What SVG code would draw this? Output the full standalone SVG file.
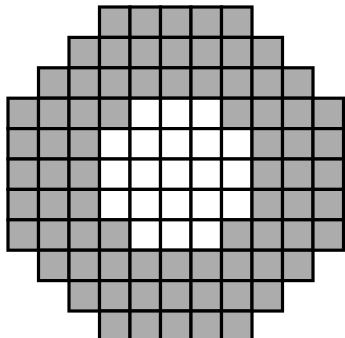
<svg xmlns="http://www.w3.org/2000/svg" width="345" height="338" viewBox="0 0 345 338">
<style>
rect{stroke:#000;stroke-width:3.2;width:30.5px;height:30.4px}
.g{fill:#acacac}
.w{fill:#fff}
</style>
<rect x="0" y="0" width="345" height="338" fill="#fff" style="stroke:none;width:345px;height:338px"/>
<g id="row0">
<rect class="g" x="99.5" y="7"/><rect class="g" x="130" y="7"/><rect class="g" x="160.5" y="7"/><rect class="g" x="191" y="7"/><rect class="g" x="221.5" y="7"/>
</g>
<g id="row1">
<rect class="g" x="69" y="37.4"/><rect class="g" x="99.5" y="37.4"/><rect class="g" x="130" y="37.4"/><rect class="g" x="160.5" y="37.4"/><rect class="g" x="191" y="37.4"/><rect class="g" x="221.5" y="37.4"/><rect class="g" x="252" y="37.4"/>
</g>
<g id="row2">
<rect class="g" x="38.5" y="67.8"/><rect class="g" x="69" y="67.8"/><rect class="g" x="99.5" y="67.8"/><rect class="g" x="130" y="67.8"/><rect class="g" x="160.5" y="67.8"/><rect class="g" x="191" y="67.8"/><rect class="g" x="221.5" y="67.8"/><rect class="g" x="252" y="67.8"/><rect class="g" x="282.5" y="67.8"/>
</g>
<g id="row3">
<rect class="g" x="8" y="98.2"/><rect class="g" x="38.5" y="98.2"/><rect class="g" x="69" y="98.2"/><rect class="g" x="99.5" y="98.2"/><rect class="w" x="130" y="98.2"/><rect class="w" x="160.5" y="98.2"/><rect class="w" x="191" y="98.2"/><rect class="g" x="221.5" y="98.2"/><rect class="g" x="252" y="98.2"/><rect class="g" x="282.5" y="98.2"/><rect class="g" x="313" y="98.2"/>
</g>
<g id="row4">
<rect class="g" x="8" y="128.6"/><rect class="g" x="38.5" y="128.6"/><rect class="g" x="69" y="128.6"/><rect class="w" x="99.5" y="128.6"/><rect class="w" x="130" y="128.6"/><rect class="w" x="160.5" y="128.6"/><rect class="w" x="191" y="128.6"/><rect class="w" x="221.5" y="128.6"/><rect class="g" x="252" y="128.6"/><rect class="g" x="282.5" y="128.6"/><rect class="g" x="313" y="128.6"/>
</g>
<g id="row5">
<rect class="g" x="8" y="159"/><rect class="g" x="38.5" y="159"/><rect class="g" x="69" y="159"/><rect class="w" x="99.5" y="159"/><rect class="w" x="130" y="159"/><rect class="w" x="160.5" y="159"/><rect class="w" x="191" y="159"/><rect class="w" x="221.5" y="159"/><rect class="g" x="252" y="159"/><rect class="g" x="282.5" y="159"/><rect class="g" x="313" y="159"/>
</g>
<g id="row6">
<rect class="g" x="8" y="189.4"/><rect class="g" x="38.5" y="189.4"/><rect class="g" x="69" y="189.4"/><rect class="w" x="99.5" y="189.4"/><rect class="w" x="130" y="189.4"/><rect class="w" x="160.5" y="189.4"/><rect class="w" x="191" y="189.4"/><rect class="w" x="221.5" y="189.4"/><rect class="g" x="252" y="189.4"/><rect class="g" x="282.5" y="189.4"/><rect class="g" x="313" y="189.4"/>
</g>
<g id="row7">
<rect class="g" x="8" y="219.8"/><rect class="g" x="38.5" y="219.8"/><rect class="g" x="69" y="219.8"/><rect class="g" x="99.5" y="219.8"/><rect class="w" x="130" y="219.8"/><rect class="w" x="160.5" y="219.8"/><rect class="w" x="191" y="219.8"/><rect class="g" x="221.5" y="219.8"/><rect class="g" x="252" y="219.8"/><rect class="g" x="282.5" y="219.8"/><rect class="g" x="313" y="219.8"/>
</g>
<g id="row8">
<rect class="g" x="38.5" y="250.2"/><rect class="g" x="69" y="250.2"/><rect class="g" x="99.5" y="250.2"/><rect class="g" x="130" y="250.2"/><rect class="g" x="160.5" y="250.2"/><rect class="g" x="191" y="250.2"/><rect class="g" x="221.5" y="250.2"/><rect class="g" x="252" y="250.2"/><rect class="g" x="282.5" y="250.2"/>
</g>
<g id="row9">
<rect class="g" x="69" y="280.6"/><rect class="g" x="99.5" y="280.6"/><rect class="g" x="130" y="280.6"/><rect class="g" x="160.5" y="280.6"/><rect class="g" x="191" y="280.6"/><rect class="g" x="221.5" y="280.6"/><rect class="g" x="252" y="280.6"/>
</g>
<g id="row10">
<rect class="g" x="99.5" y="311"/><rect class="g" x="130" y="311"/><rect class="g" x="160.5" y="311"/><rect class="g" x="191" y="311"/><rect class="g" x="221.5" y="311"/>
</g>
</svg>
